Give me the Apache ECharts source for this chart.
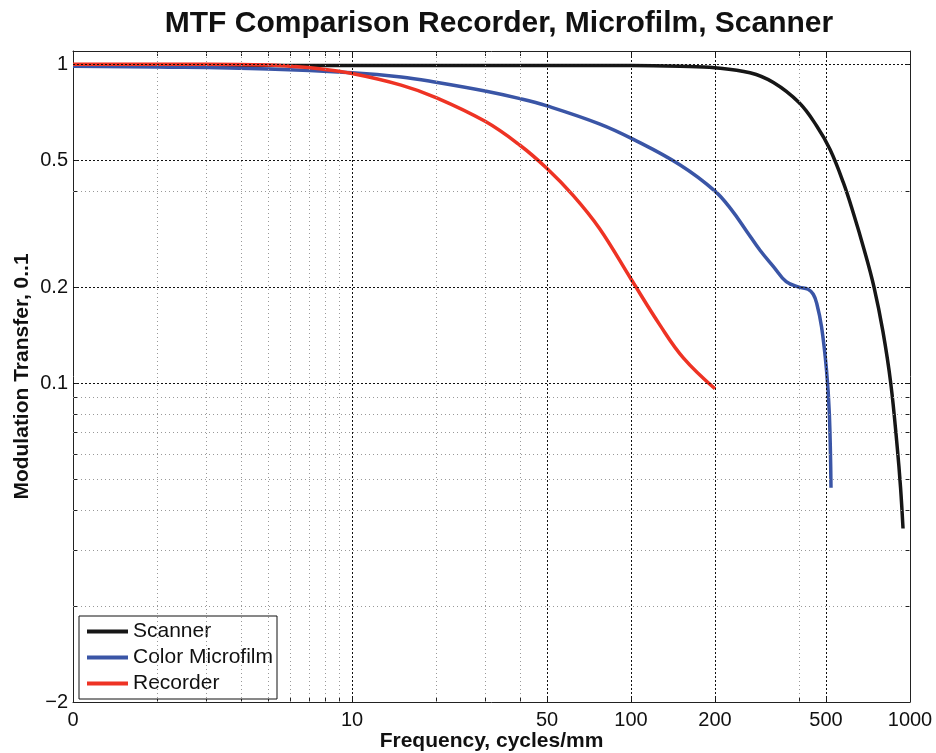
<!DOCTYPE html>
<html>
<head>
<meta charset="utf-8">
<title>MTF Comparison</title>
<script src="https://cdn.jsdelivr.net/npm/echarts@6.0.0/dist/echarts.min.js"></script>
<style>
    html, body { margin: 0; padding: 0; background: #fff; }
    #chart { width: 936px; height: 753px; }
</style>
</head>
<body>
<div id="chart"></div>
<script>
    // values: frequency (cycles/mm) -> modulation transfer
    const scannerFreq = [1, 50, 100, 150, 200, 267, 324, 400, 463, 517, 577, 626, 685, 743, 800, 853, 900, 925, 944];
    const scannerMtf = [0.99, 0.99, 0.99, 0.985, 0.975, 0.94, 0.876, 0.758, 0.64, 0.54, 0.425, 0.342, 0.262, 0.2, 0.145, 0.1, 0.063, 0.047, 0.035];

    const microfilmFreq = [1, 2, 5, 10, 15, 20, 30, 40, 50, 77, 102, 150, 200, 230, 260, 290, 324, 360, 400, 431, 450, 463, 482, 502, 514, 521];
    const microfilmMtf = [0.985, 0.98, 0.966, 0.94, 0.912, 0.878, 0.824, 0.78, 0.74, 0.65, 0.581, 0.483, 0.40, 0.348, 0.299, 0.261, 0.232, 0.208, 0.2, 0.197, 0.19, 0.178, 0.15, 0.11, 0.08, 0.047];

    const recorderFreq = [1, 3, 5, 6, 7.5, 10, 15, 20, 30, 40, 50, 62, 77, 100, 127, 154, 200];
    const recorderMtf = [1.0, 1.0, 0.995, 0.985, 0.969, 0.935, 0.86, 0.786, 0.662, 0.557, 0.471, 0.388, 0.306, 0.212, 0.152, 0.12, 0.096];

    // tick labels and grid positions
    const xLabels = [1, 10, 50, 100, 200, 500, 1000];
    const yLabels = [0.01, 0.1, 0.2, 0.5, 1];
    const xMajorGrid = [10, 50, 100, 200, 500];
    const xMinorGrid = [2, 3, 4, 5, 6, 7, 8, 9, 20, 30, 40, 400];
    const yMajorGrid = [0.1, 0.2, 0.5, 1];
    const yMinorGrid = [0.02, 0.03, 0.04, 0.05, 0.06, 0.07, 0.08, 0.09, 0.4];

    const font = 'Liberation Sans, Arial, Helvetica, sans-serif';
    const pairs = (xs, ys) => xs.map((x, i) => [x, ys[i]]);

    const chart = echarts.init(document.getElementById('chart'));

    function xAxis(pos, withLabels) {
        return {
            type: 'log', logBase: 10, position: pos, min: 1, max: 1000,
            axisLine: { show: true, onZero: false, lineStyle: { color: '#222', width: 1 } },
            axisTick: { show: true, inside: true, length: 5, customValues: xLabels.concat(xMinorGrid), lineStyle: { color: '#222' } },
            axisLabel: withLabels ? {
                show: true, customValues: xLabels, margin: 8,
                fontSize: 20, color: '#111', fontFamily: font,
                formatter: v => (v === 1 ? '0' : String(v))
            } : { show: false },
            splitLine: { show: false }
        };
    }

    function yAxis(pos, withLabels) {
        return {
            type: 'log', logBase: 10, position: pos, min: 0.01, max: 1.1,
            axisLine: { show: true, onZero: false, lineStyle: { color: '#222', width: 1 } },
            axisTick: { show: true, inside: true, length: 5, customValues: yLabels.concat(yMinorGrid), lineStyle: { color: '#222' } },
            axisLabel: withLabels ? {
                show: true, customValues: yLabels, margin: 5,
                fontSize: 20, color: '#111', fontFamily: font,
                verticalAlignMinLabel: 'middle',
                formatter: v => (Math.abs(v - 0.01) < 1e-9 ? '\u22122' : String(v))
            } : { show: false },
            splitLine: { show: false }
        };
    }

    function gridLines(xs, ys, style) {
        return {
            type: 'line', data: [[1, 1]], showSymbol: false, silent: true, z: 1,
            lineStyle: { opacity: 0 },
            markLine: {
                silent: true, symbol: ['none', 'none'], label: { show: false },
                lineStyle: style,
                data: xs.map(v => ({ xAxis: v })).concat(ys.map(v => ({ yAxis: v })))
            }
        };
    }

    function curve(name, color, xs, ys) {
        return {
            name: name, type: 'line', data: pairs(xs, ys), z: 3,
            showSymbol: false, smooth: 0.4,
            lineStyle: { color: color, width: 3.5 },
            itemStyle: { color: color }
        };
    }

    const bottom = xAxis('bottom', true);
    bottom.name = 'Frequency, cycles/mm';
    bottom.nameLocation = 'middle';
    bottom.nameGap = 29;
    bottom.nameMoveOverlap = false;
    bottom.nameTextStyle = { fontSize: 21, fontWeight: 'bold', color: '#111', fontFamily: font };

    const left = yAxis('left', true);
    left.name = 'Modulation Transfer, 0..1';
    left.nameLocation = 'middle';
    left.nameGap = 40;
    left.nameMoveOverlap = false;
    left.nameTextStyle = { fontSize: 21, fontWeight: 'bold', color: '#111', fontFamily: font };

    const option = {
        animation: false,
        title: {
            text: 'MTF Comparison Recorder, Microfilm, Scanner',
            left: 494, top: 4, textAlign: 'center',
            textStyle: { fontSize: 30, fontWeight: 'bold', color: '#111', fontFamily: font }
        },
        grid: { left: 73, right: 26, top: 51, bottom: 51, containLabel: false, outerBoundsMode: 'none' },
        legend: {
            orient: 'vertical', left: 79, top: 616,
            data: ['Scanner', 'Color Microfilm', 'Recorder'],
            icon: 'rect', itemWidth: 41, itemHeight: 4, itemGap: 5,
            padding: [5, 4, 5, 8],
            borderColor: '#111', borderWidth: 1, backgroundColor: '#fff',
            selectedMode: false,
            textStyle: { fontSize: 21, color: '#111', fontFamily: font }
        },
        xAxis: [bottom, xAxis('top', false)],
        yAxis: [left, yAxis('right', false)],
        series: [
            gridLines(xMinorGrid, yMinorGrid, { color: '#999', width: 1, type: [1, 3] }),
            gridLines(xMajorGrid, yMajorGrid, { color: '#111', width: 1, type: [2, 2] }),
            curve('Scanner', '#161616', scannerFreq, scannerMtf),
            curve('Color Microfilm', '#3a55a6', microfilmFreq, microfilmMtf),
            curve('Recorder', '#ee3324', recorderFreq, recorderMtf)
        ]
    };

    chart.setOption(option);
</script>
</body>
</html>
